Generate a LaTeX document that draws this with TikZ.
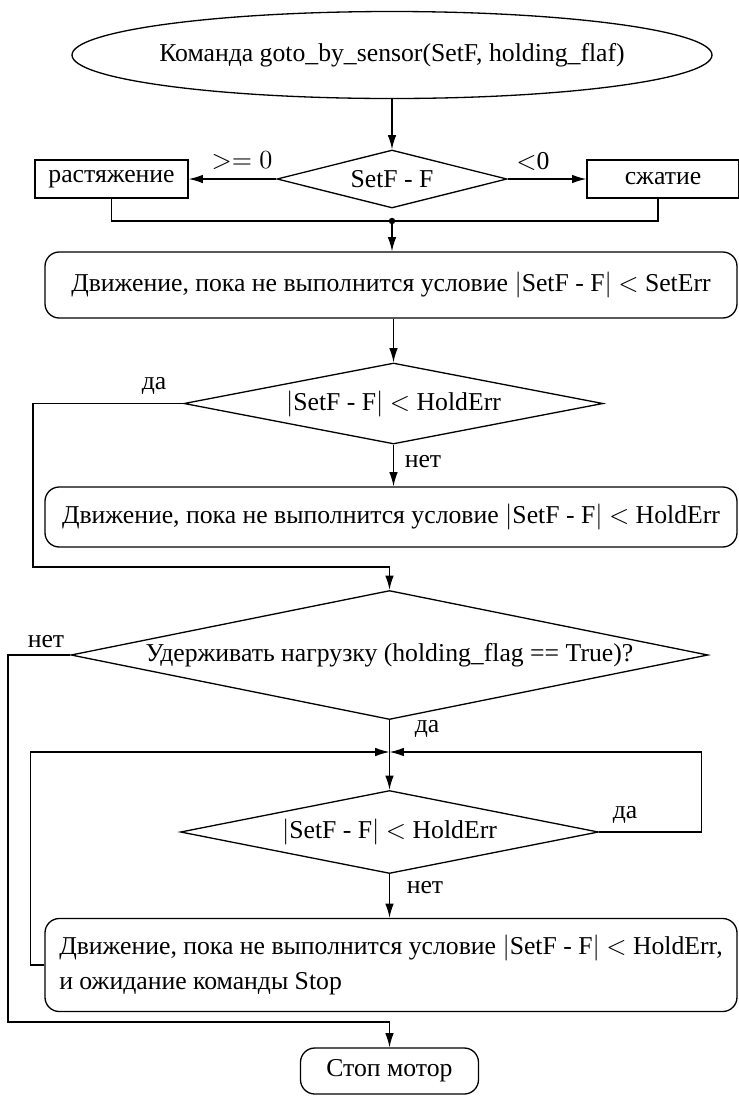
\documentclass[tikz,border=0pt]{standalone}
\usepackage{fontspec}
\setmainfont{Liberation Serif}
\usetikzlibrary{shapes.geometric,arrows.meta}
\def\pxunit{0.42}
\tikzset{
  base/.style={draw,line width=0.55pt,font=\fontsize{10.8}{14.5}\selectfont,inner sep=0pt},
  procbox/.style={base,rounded corners=6pt,minimum width=\pxunit*692pt,minimum height=#1},
  plainbox/.style={base,minimum width=\pxunit*153pt,minimum height=\pxunit*38pt},
  decision/.style={base,diamond},
  lbl/.style={font=\fontsize{10.8}{14}\selectfont,inner sep=0pt},
  arr/.style={line width=0.55pt,-{Latex[length=6pt,width=3.6pt]}},
  ln/.style={line width=0.55pt}
}
\begin{document}
\begin{tikzpicture}[x=0.42pt,y=-0.42pt]
\useasboundingbox (0,0) rectangle (739,1097);
% nodes
\node[base,ellipse,minimum width=\pxunit*640pt,minimum height=\pxunit*87pt] (start) at (392,55) {\makebox[0pt]{Команда goto\_by\_sensor(SetF, holding\_flaf)}};
\node[decision,aspect=3.97,minimum width=\pxunit*230pt,minimum height=\pxunit*58pt] (d1) at (392,179) {SetF - F};
\node[plainbox] (stretch) at (111.5,179) {растяжение};
\node[plainbox,minimum width=\pxunit*152pt] (compress) at (663,179) {сжатие};
\coordinate (cj) at (658,198);
\coordinate (join) at (392,221);
\node[procbox=\pxunit*66pt] (m1) at (391,285) {Движение, пока не выполнится условие $|$SetF - F$|$ $<$ SetErr};
\node[decision,aspect=5.17,minimum width=\pxunit*419pt,minimum height=\pxunit*81pt] (d2) at (393.5,403.5) {$|$SetF - F$|$ $<$ HoldErr};
\node[procbox=\pxunit*60pt] (m2) at (391,517) {Движение, пока не выполнится условие $|$SetF - F$|$ $<$ HoldErr};
\coordinate (a1) at (33,567);
\node[decision,aspect=4.95,minimum width=\pxunit*637pt,minimum height=\pxunit*129pt] (d3) at (389.5,655) {Удерживать нагрузку (holding\_flag == True)?};
\coordinate (mp) at (389.5,752);
\node[decision,aspect=5.0,minimum width=\pxunit*418pt,minimum height=\pxunit*83pt] (d4) at (389.5,832) {$|$SetF - F$|$ $<$ HoldErr};
\node[procbox=\pxunit*93pt,align=left] (m3) at (391,965) {Движение, пока не выполнится условие $|$SetF - F$|$ $<$ HoldErr,\\и ожидание команды Stop};
\coordinate (b1) at (8,1022);
\node[base,rounded corners=6pt,minimum width=\pxunit*178pt,minimum height=\pxunit*46pt] (stop) at (389.5,1071) {Стоп мотор};
% labels
\node[lbl] (l1) at (242,161) {$>=0$};
\node[lbl] (l2) at (533,161) {$<$0};
\node[lbl] (l3) at (154,386) {да};
\node[lbl] (l4) at (423,462) {нет};
\node[lbl] (l5) at (46,642) {нет};
\node[lbl] (l6) at (427,729) {да};
\node[lbl] (l7) at (625,815) {да};
\node[lbl] (l8) at (425,888) {нет};
% connectors
\draw[arr] (start) -- (d1);
\draw[arr] (d1.west) -- (stretch.east);
\draw[arr] (d1.east) -- (compress.west);
\draw[ln] (stretch.south) |- (join) -| (cj);
\fill (join) circle[radius=3.2];
\draw[arr] (join) -- (join |- m1.north);
\draw[arr] (d2.north |- m1.south) -- (d2.north);
\draw[arr] (d2.south) -- (d2.south |- m2.north);
\draw[arr] (d2.west) -| (a1) -| (d3.north);
\draw[arr] (d3.west) -| (b1) -| (stop.north);
\draw[arr] (d3.south) -- (d4.north);
\draw[arr] (m3.west) -- ++(-14,0) |- (mp);
\draw[arr] (d4.east) -- ++(102,0) |- (mp);
\draw[arr] (d4.south) -- (d4.south |- m3.north);
\end{tikzpicture}
\end{document}
